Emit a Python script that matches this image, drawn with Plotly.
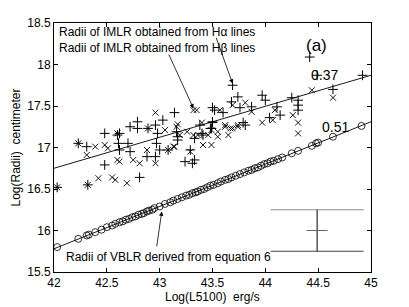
import plotly.graph_objects as go

# Hα (+) points
ha_x = [42.48, 42.72, 42.79, 42.79, 42.89, 42.96, 43.03, 43.14, 43.16, 43.38, 43.48, 43.50, 43.52, 43.50,
        44.42, 44.49, 44.92, 44.64, 44.25, 44.31, 44.31, 44.31, 44.11, 44.14, 44.04, 43.87, 43.76, 43.97,
        44.00, 43.69, 43.74, 43.68, 43.60, 43.50, 43.81, 43.49, 42.03, 42.23, 42.31, 42.32, 42.48, 42.61,
        42.62, 42.62, 42.60, 42.70, 42.72, 42.81, 42.88, 42.97, 43.00, 42.98, 43.08, 43.17, 43.24, 43.31,
        43.33, 43.29, 43.40, 43.17, 43.33, 43.41, 43.79, 42.96]
ha_y = [17.17, 17.25, 17.31, 17.23, 17.23, 17.27, 17.33, 17.42, 17.19, 17.27, 17.23, 17.48, 17.45, 17.31,
        18.09, 17.87, 17.87, 17.70, 17.60, 17.57, 17.51, 17.45, 17.49, 17.39, 17.36, 17.49, 17.48, 17.63,
        17.57, 17.75, 17.61, 17.55, 17.42, 17.30, 17.27, 17.23, 16.52, 17.05, 17.01, 16.55, 16.79, 17.05,
        16.97, 17.17, 17.15, 17.05, 16.95, 16.64, 16.89, 17.05, 16.97, 17.17, 16.97, 17.09, 16.83, 16.81,
        16.85, 16.97, 17.17, 17.13, 17.11, 17.15, 17.30, 16.89]

# Hβ (x) points
hb_x = [42.60, 42.89, 42.96, 43.05, 43.16, 43.17, 43.32, 43.35, 43.40, 43.49, 44.64, 44.44, 44.31, 44.26,
        44.09, 43.97, 43.87, 43.81, 43.69, 43.57, 43.62, 43.69, 43.74, 43.55, 43.65, 44.31, 42.03, 42.23,
        42.31, 42.39, 42.42, 42.32, 42.48, 42.51, 42.60, 42.55, 42.58, 42.69, 42.62, 42.75, 42.81, 42.88,
        42.96, 43.08, 43.14, 43.19, 43.26, 43.32, 43.49, 43.46, 43.13, 43.29, 43.36, 43.41, 43.55, 43.62,
        43.67, 43.74, 44.07]
hb_y = [17.17, 17.23, 17.42, 17.21, 17.25, 17.28, 17.45, 17.45, 17.30, 17.21, 17.60, 17.69, 17.30, 17.39,
        17.45, 17.30, 17.43, 17.54, 17.51, 17.45, 17.27, 17.23, 17.27, 17.19, 17.15, 17.17, 16.52, 17.05,
        16.91, 17.01, 16.63, 16.55, 17.03, 16.99, 16.85, 16.64, 16.61, 16.57, 16.83, 16.85, 16.81, 16.97,
        16.81, 16.97, 17.01, 17.15, 17.19, 17.15, 17.03, 17.15, 17.01, 16.95, 17.15, 17.03, 17.13, 17.25,
        17.23, 17.25, 17.33]

# VBLR (o) points
vb_x = [42.03, 42.23, 42.31, 42.33, 42.39, 42.45, 42.50, 42.55, 42.58, 42.62, 42.65, 42.68, 42.71, 42.74,
        42.77, 42.80, 42.83, 42.85, 42.88, 42.90, 42.93, 42.95, 43.00, 43.05, 43.10, 43.13, 43.17, 43.21,
        43.25, 43.28, 43.31, 43.34, 43.36, 43.39, 43.42, 43.45, 43.48, 43.51, 43.55, 43.58, 43.62, 43.65,
        43.68, 43.72, 43.76, 43.80, 43.84, 43.87, 43.90, 43.93, 43.96, 43.99, 44.02, 44.05, 44.08, 44.12,
        44.16, 44.25, 44.31, 44.44, 44.48, 44.50, 44.64, 44.91]
vb_y = [15.80, 15.90, 15.94, 15.95, 15.98, 16.01, 16.04, 16.06, 16.08, 16.10, 16.11, 16.13, 16.14, 16.16,
        16.17, 16.19, 16.20, 16.21, 16.23, 16.24, 16.25, 16.27, 16.29, 16.32, 16.34, 16.36, 16.38, 16.40,
        16.42, 16.43, 16.45, 16.46, 16.47, 16.49, 16.50, 16.52, 16.54, 16.55, 16.57, 16.59, 16.61, 16.62,
        16.64, 16.66, 16.68, 16.70, 16.72, 16.73, 16.75, 16.76, 16.78, 16.80, 16.81, 16.83, 16.84, 16.86,
        16.88, 16.93, 16.96, 17.02, 17.05, 17.06, 17.13, 17.26]

# fitted lines
fit_x = [42, 45]
fit_upper = [16.75, 17.87]
fit_lower = [15.78, 17.31]

# typical error bar
err_x = 44.49
err_y = 16.0
err_half = 0.25
err_span = [44.05, 44.93]
err_tick = [44.39, 44.59]

x_ticks = [42, 42.5, 43, 43.5, 44, 44.5, 45]
y_ticks = [15.5, 16, 16.5, 17, 17.5, 18, 18.5]

FONT = "Liberation Sans, Arial, Helvetica, sans-serif"

fig = go.Figure()
fig.add_trace(go.Scatter(x=fit_x, y=fit_upper, mode="lines", line=dict(color="black", width=0.9)))
fig.add_trace(go.Scatter(x=fit_x, y=fit_lower, mode="lines", line=dict(color="black", width=0.9)))
fig.add_trace(go.Scatter(x=ha_x, y=ha_y, mode="markers",
                         marker=dict(symbol="cross-thin-open", size=7, color="black",
                                     line=dict(color="black", width=1))))
fig.add_trace(go.Scatter(x=hb_x, y=hb_y, mode="markers",
                         marker=dict(symbol="x-thin-open", size=6, color="black",
                                     line=dict(color="black", width=0.9))))
fig.add_trace(go.Scatter(x=vb_x, y=vb_y, mode="markers",
                         marker=dict(symbol="circle-open", size=7, color="black",
                                     line=dict(color="black", width=0.8))))
# error bar box
fig.add_trace(go.Scatter(x=err_span, y=[err_y + err_half] * 2, mode="lines", line=dict(color="#8c8c8c", width=1.2)))
fig.add_trace(go.Scatter(x=err_span, y=[err_y - err_half] * 2, mode="lines", line=dict(color="#444", width=1.2)))
fig.add_trace(go.Scatter(x=[err_x, err_x], y=[err_y - err_half, err_y + err_half], mode="lines",
                         line=dict(color="black", width=1)))
fig.add_trace(go.Scatter(x=err_tick, y=[err_y, err_y], mode="lines", line=dict(color="#666", width=1)))

ann = []
txt = dict(color="black", size=12, family=FONT)
ann.append(dict(x=42.03, y=18.39, text="Radii of IMLR obtained from Hα lines", showarrow=False,
                xanchor="left", yanchor="middle", font=txt))
ann.append(dict(x=42.03, y=18.20, text="Radii of IMLR obtained from Hβ lines", showarrow=False,
                xanchor="left", yanchor="middle", font=txt))
ann.append(dict(x=42.09, y=15.68, text="Radii of VBLR derived from equation 6", showarrow=False,
                xanchor="left", yanchor="middle", font=txt))
ann.append(dict(x=44.48, y=18.23, text="(a)", showarrow=False, font=dict(color="black", size=17, family=FONT)))
ann.append(dict(x=44.56, y=17.87, text="0.37", showarrow=False, font=dict(color="black", size=14, family=FONT)))
ann.append(dict(x=44.66, y=17.25, text="0.51", showarrow=False, font=dict(color="black", size=14, family=FONT)))
# x-axis title placed as paper annotation
ann.append(dict(x=0.5, y=-0.102, xref="paper", yref="paper", text="Log(L5100)  erg/s", showarrow=False,
                xanchor="center", yanchor="middle", borderpad=0,
                font=dict(size=12, color="black", family=FONT)))
arrow = dict(text="", showarrow=True, arrowhead=2, arrowsize=1.1, arrowwidth=0.8, arrowcolor="black",
             xref="x", yref="y", axref="x", ayref="y", standoff=0)
ann.append(dict(arrow, x=43.32, y=17.47, ax=43.08, ay=18.14))
ann.append(dict(arrow, x=43.69, y=17.77, ax=43.53, ay=18.34))
ann.append(dict(arrow, x=43.02, y=16.23, ax=42.97, ay=15.79))

axis_common = dict(showline=True, linecolor="black", linewidth=1, mirror="ticks", ticks="inside",
                   ticklen=4, tickcolor="black", showgrid=False, zeroline=False, automargin=False,
                   tickfont=dict(size=12, color="black", family=FONT))
fig.update_layout(
    width=409, height=307,
    margin=dict(l=54, r=38, t=23, b=35),
    paper_bgcolor="white", plot_bgcolor="white",
    showlegend=False,
    annotations=ann,
    xaxis=dict(axis_common, range=[42, 45], tickvals=x_ticks, ticktext=[str(v) for v in x_ticks], ticklabelstandoff=0),
    yaxis=dict(axis_common, range=[15.5, 18.5], tickvals=y_ticks, ticktext=[str(v) for v in y_ticks],
               title=dict(text="Log(Radii)  centimeter", font=dict(size=12, color="black", family=FONT), standoff=4)),
)
fig.write_html("out.html", config={"displayModeBar": False},
               post_script="document.body.style.margin='0px';")
